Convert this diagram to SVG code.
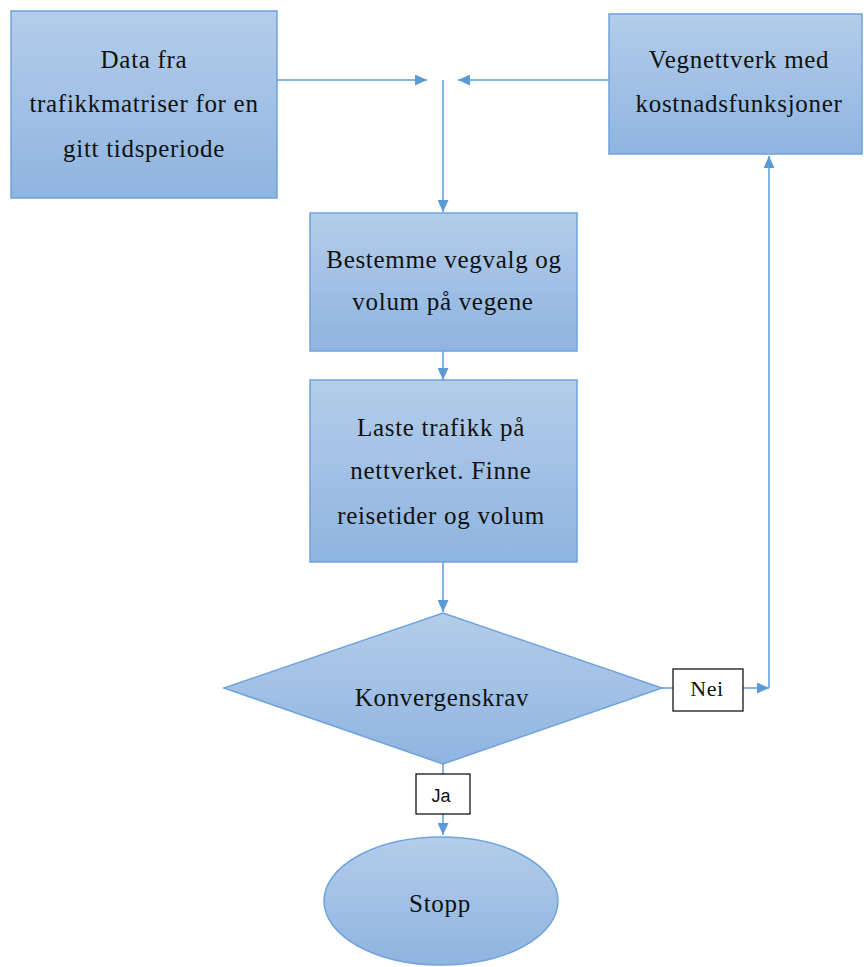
<svg xmlns="http://www.w3.org/2000/svg" width="864" height="967" viewBox="0 0 864 967">
  <defs>
    <linearGradient id="blueFill" x1="0" y1="0" x2="0" y2="1">
      <stop offset="0" stop-color="#b3cdea"/>
      <stop offset="1" stop-color="#8fb4e0"/>
    </linearGradient>
    <marker id="arrow" markerUnits="userSpaceOnUse" markerWidth="13" markerHeight="11" refX="12" refY="5.5" orient="auto">
      <path d="M0,0 L12,5.5 L0,11 z" fill="#5b9bd5"/>
    </marker>
    <style>
      .shape { fill: url(#blueFill); stroke: #6fa3db; stroke-width: 1.5; }
      .label { fill: #ffffff; stroke: #000000; stroke-width: 1.2; }
      .conn { fill: none; stroke: #5b9bd5; stroke-width: 1.5; }
      .arr { marker-end: url(#arrow); }
      .t { font-family: "Liberation Serif", "Times New Roman", serif; font-size: 25px; letter-spacing: 0.7px; fill: #111111; text-anchor: middle; }
      .small { font-size: 22px; letter-spacing: 0.5px; }
      .sans { font-family: "Liberation Sans", Arial, sans-serif; font-size: 18px; letter-spacing: 0; }
    </style>
  </defs>

  <!-- connectors -->
  <g id="connectors">
    <path class="conn arr" d="M277,80 H427"/>
    <path class="conn arr" d="M609,80 H458"/>
    <path class="conn arr" d="M443,80 V212"/>
    <path class="conn arr" d="M443,351 V380"/>
    <path class="conn arr" d="M443,562 V612"/>
    <path class="conn" d="M662,688 H673"/>
    <path class="conn arr" d="M743,688 H769"/>
    <path class="conn arr" d="M769,688 V156"/>
    <path class="conn" d="M443,764 V774"/>
    <path class="conn arr" d="M443,814 V835"/>
  </g>

  <g id="data-input">
    <rect class="shape" x="11" y="11" width="266" height="187"/>
    <text class="t" x="144" y="68">Data fra</text>
    <text class="t" x="144" y="112">trafikkmatriser for en</text>
    <text class="t" x="144" y="157">gitt tidsperiode</text>
  </g>

  <g id="road-network">
    <rect class="shape" x="609" y="14" width="253" height="140"/>
    <text class="t" x="739" y="68">Vegnettverk med</text>
    <text class="t" x="739" y="112">kostnadsfunksjoner</text>
  </g>

  <g id="route-choice">
    <rect class="shape" x="310" y="213" width="267" height="138"/>
    <text class="t" x="444" y="268">Bestemme vegvalg og</text>
    <text class="t" x="443" y="310">volum på vegene</text>
  </g>

  <g id="load-traffic">
    <rect class="shape" x="310" y="380" width="267" height="182"/>
    <text class="t" x="441" y="436">Laste trafikk på</text>
    <text class="t" x="441" y="479">nettverket. Finne</text>
    <text class="t" x="441" y="524">reisetider og volum</text>
  </g>

  <g id="convergence">
    <polygon class="shape" points="443,613 662,688 443,764 224,688"/>
    <text class="t" x="442" y="706">Konvergenskrav</text>
  </g>

  <g id="label-nei">
    <rect class="label" x="673" y="669" width="70" height="42"/>
    <text class="t small" x="707" y="696">Nei</text>
  </g>

  <g id="label-ja">
    <rect class="label" x="416" y="774" width="54" height="40"/>
    <text class="t sans" x="441" y="802">Ja</text>
  </g>

  <g id="stop">
    <ellipse class="shape" cx="441" cy="901" rx="117" ry="64"/>
    <text class="t" x="440" y="912">Stopp</text>
  </g>
</svg>
